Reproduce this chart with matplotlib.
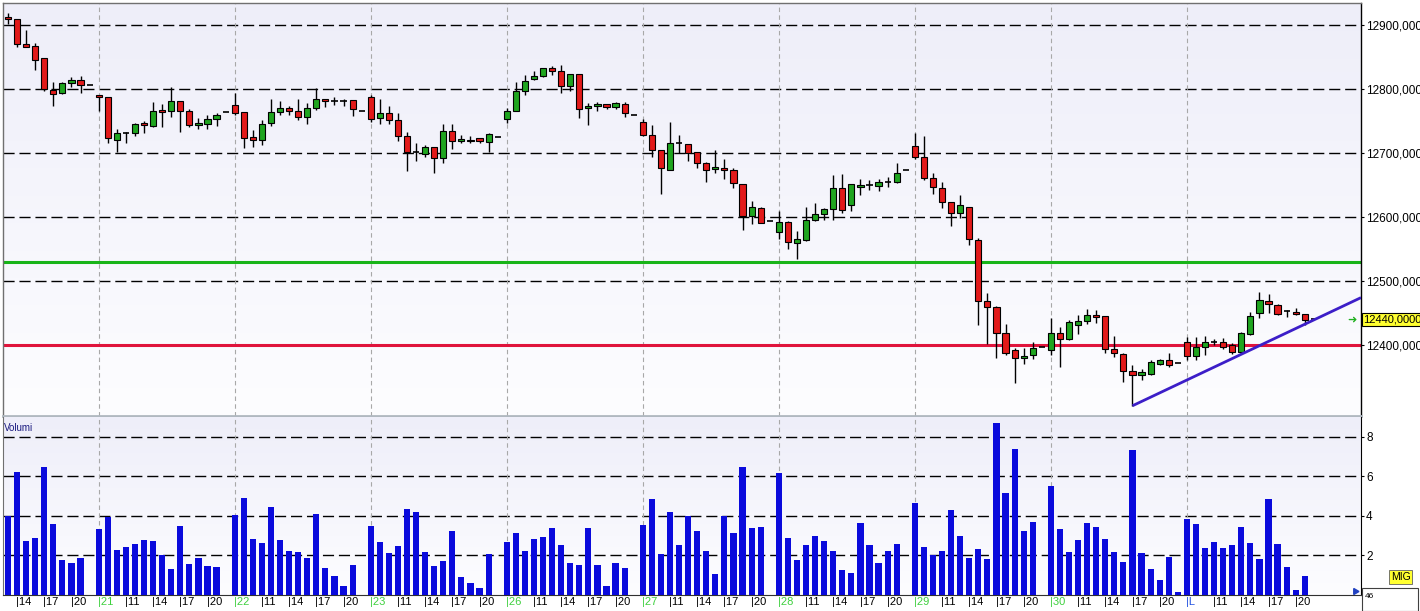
import numpy as np
import matplotlib
matplotlib.use("Agg")
import matplotlib.pyplot as plt
import matplotlib.transforms as mtransforms
from matplotlib.patches import Rectangle
from matplotlib.colors import LinearSegmentedColormap

plt.rcParams["font.family"] = ["Liberation Sans", "DejaVu Sans"]

# ---- hourly OHLC ----
opens = [12912, 12909, 12871, 12867, 12848, 12798, 12793, 12810, 12814, 12806,
         12790, 12787, 12721, 12731, 12731, 12747, 12742, 12767, 12765, 12781,
         12766, 12743, 12745, 12753, 12764, 12775, 12764, 12725, 12720, 12747,
         12764, 12771, 12765, 12757, 12770, 12785, 12782, 12782, 12783, 12766,
         12787, 12754, 12762, 12752, 12727, 12701, 12699, 12709, 12692, 12735,
         12718, 12719, 12723, 12717, 12725, 12753, 12766, 12797, 12815, 12820,
         12833, 12828, 12804, 12823, 12770, 12774, 12776, 12772, 12776, 12760,
         12749, 12728, 12704, 12674, 12715, 12714, 12701, 12684, 12675, 12676,
         12673, 12651, 12602, 12614, 12593, 12576, 12592, 12560, 12564, 12596,
         12604, 12612, 12646, 12619, 12647, 12650, 12648, 12655, 12654, 12673,
         12711, 12693, 12661, 12646, 12623, 12606, 12616, 12564, 12468, 12459,
         12419, 12392, 12379, 12385, 12397, 12392, 12418, 12410, 12431, 12437,
         12447, 12446, 12393, 12386, 12359, 12353, 12355, 12371, 12377, 12372,
         12405, 12383, 12397, 12405, 12405, 12400, 12389, 12417, 12450, 12468,
         12462, 12453, 12452, 12448, 12440]
highs = [12918, 12910, 12892, 12872, 12849, 12811, 12811, 12818, 12820, 12806,
         12790, 12788, 12737, 12733, 12747, 12750, 12780, 12776, 12803, 12781,
         12769, 12755, 12759, 12762, 12764, 12793, 12764, 12736, 12752, 12784,
         12781, 12773, 12784, 12778, 12801, 12785, 12787, 12784, 12783, 12766,
         12790, 12784, 12774, 12762, 12733, 12715, 12712, 12709, 12746, 12745,
         12728, 12727, 12723, 12731, 12725, 12771, 12811, 12822, 12828, 12833,
         12836, 12837, 12823, 12823, 12778, 12780, 12776, 12780, 12780, 12760,
         12753, 12744, 12704, 12749, 12728, 12714, 12702, 12686, 12704, 12690,
         12676, 12652, 12625, 12616, 12593, 12610, 12594, 12578, 12615, 12622,
         12614, 12666, 12667, 12651, 12659, 12658, 12659, 12663, 12684, 12673,
         12731, 12727, 12669, 12654, 12623, 12634, 12616, 12567, 12481, 12461,
         12433, 12395, 12395, 12405, 12397, 12442, 12428, 12439, 12447, 12456,
         12454, 12446, 12414, 12388, 12368, 12363, 12376, 12378, 12388, 12372,
         12413, 12413, 12414, 12410, 12411, 12403, 12421, 12452, 12482, 12480,
         12464, 12455, 12457, 12449, 12440]
lows = [12901, 12866, 12865, 12830, 12797, 12774, 12792, 12803, 12794, 12806,
        12766, 12715, 12701, 12715, 12726, 12731, 12740, 12740, 12757, 12733,
        12741, 12737, 12737, 12742, 12764, 12760, 12708, 12710, 12713, 12742,
        12759, 12759, 12752, 12746, 12767, 12772, 12775, 12774, 12758, 12766,
        12749, 12745, 12745, 12718, 12672, 12688, 12693, 12669, 12684, 12707,
        12715, 12715, 12715, 12701, 12725, 12747, 12765, 12791, 12814, 12819,
        12822, 12794, 12797, 12754, 12744, 12766, 12769, 12769, 12757, 12760,
        12726, 12694, 12636, 12674, 12700, 12688, 12677, 12655, 12668, 12659,
        12645, 12579, 12589, 12591, 12593, 12566, 12550, 12534, 12563, 12594,
        12596, 12596, 12607, 12610, 12634, 12642, 12641, 12647, 12653, 12673,
        12690, 12658, 12636, 12614, 12586, 12598, 12556, 12431, 12402, 12380,
        12384, 12341, 12371, 12378, 12397, 12384, 12366, 12408, 12417, 12433,
        12435, 12388, 12381, 12342, 12305, 12345, 12353, 12369, 12366, 12372,
        12377, 12377, 12385, 12400, 12393, 12386, 12386, 12416, 12442, 12450,
        12447, 12444, 12447, 12431, 12440]
closes = [12909, 12871, 12866, 12846, 12800, 12792, 12810, 12814, 12806, 12806,
          12787, 12723, 12731, 12731, 12745, 12743, 12765, 12764, 12781, 12765,
          12743, 12747, 12753, 12759, 12764, 12763, 12724, 12720, 12745, 12764,
          12771, 12765, 12757, 12770, 12784, 12782, 12782, 12782, 12768, 12766,
          12753, 12762, 12752, 12727, 12701, 12701, 12710, 12692, 12735, 12718,
          12722, 12721, 12718, 12729, 12725, 12766, 12797, 12812, 12820, 12833,
          12828, 12804, 12823, 12768, 12774, 12777, 12772, 12778, 12763, 12760,
          12728, 12704, 12676, 12715, 12715, 12700, 12684, 12673, 12678, 12673,
          12653, 12601, 12615, 12591, 12593, 12592, 12561, 12565, 12596, 12604,
          12612, 12646, 12611, 12651, 12650, 12650, 12654, 12655, 12668, 12673,
          12693, 12661, 12647, 12623, 12606, 12618, 12565, 12468, 12459, 12419,
          12388, 12379, 12383, 12396, 12397, 12418, 12409, 12436, 12437, 12447,
          12443, 12394, 12388, 12360, 12353, 12357, 12374, 12377, 12368, 12372,
          12383, 12397, 12405, 12405, 12397, 12389, 12418, 12445, 12470, 12464,
          12449, 12453, 12448, 12439, 12440]
volumes = [3.98, 6.19, 2.71, 2.88, 6.49, 3.58, 1.75, 1.61, 1.85, 0,
           3.32, 3.95, 2.25, 2.42, 2.56, 2.76, 2.71, 2.00, 1.29, 3.47,
           1.54, 1.85, 1.46, 1.39, 0, 4.03, 4.90, 2.81, 2.61, 4.44,
           2.76, 2.20, 2.15, 1.85, 4.08, 1.34, 0.93, 0.42, 1.49, 0,
           3.47, 2.66, 2.10, 2.46, 4.34, 4.19, 2.15, 1.44, 1.69, 3.22,
           0.88, 0.58, 0.32, 2.05, 0, 2.66, 3.12, 2.20, 2.81, 2.92,
           3.37, 2.51, 1.59, 1.49, 3.37, 1.49, 0.42, 1.59, 1.34, 0,
           3.53, 4.85, 2.05, 4.19, 2.51, 3.98, 3.22, 2.20, 1.03, 3.97,
           3.12, 6.47, 3.37, 3.42, 0, 6.17, 2.86, 1.75, 2.51, 2.97,
           2.71, 2.20, 1.24, 1.08, 3.63, 2.51, 1.59, 2.20, 2.56, 0,
           4.64, 2.41, 2.00, 2.20, 4.29, 2.97, 1.86, 2.31, 1.80, 8.71,
           5.15, 7.39, 3.22, 3.68, 0, 5.51, 3.32, 2.15, 2.76, 3.63,
           3.42, 2.81, 2.15, 1.64, 7.34, 2.10, 1.29, 0.73, 1.90, 0.12,
           3.83, 3.58, 2.36, 2.66, 2.36, 2.51, 3.42, 2.61, 1.80, 4.85,
           2.56, 1.39, 0.22, 0.93, 0]

day_labels = ["21", "22", "23", "26", "27", "28", "29", "30", "L"]
first_hour = 13
session_hours = list(range(8, 23))
hour_ticks = [11, 14, 17, 20]
price_ticks = [12400, 12500, 12600, 12700, 12800, 12900]
volume_ticks = [2, 4, 6, 8]
resistance = 12530
support = 12400
trend_x = [124, 149.2]
trend_y = [12305, 12474]
last_price = 12440

hours = list(range(first_hour, 23)) + session_hours * len(day_labels)
x = np.arange(len(opens))
o = np.array(opens, float)
h = np.array(highs, float)
l = np.array(lows, float)
c = np.array(closes, float)

W, H = 1420, 611
fig = plt.figure(figsize=(W / 100, H / 100), dpi=100)
fig.patch.set_facecolor("white")


def px_axes(x0, y0, x1, y1):
    return fig.add_axes([x0 / W, 1 - y1 / H, (x1 - x0) / W, (y1 - y0) / H])


ax = px_axes(3, 3, 1361, 416)
axv = px_axes(3, 417, 1361, 594.5)

xlim = (-0.55, 149.2)
grad = np.linspace(0, 1, 256).reshape(-1, 1)
bg = LinearSegmentedColormap.from_list("bg", ["#eeeef9", "#fdfdff"])
for a in (ax, axv):
    a.imshow(grad, cmap=bg, aspect="auto", extent=[0, 1, 0, 1],
             transform=a.transAxes, zorder=0)
    a.set_xlim(*xlim)
    a.set_xticks([])

day_starts = [i for i, hr in enumerate(hours) if hr == 8]

# ---- price panel ----
ax.set_ylim(12289, 12934.4)
for p in price_ticks:
    ax.axhline(p, color="black", lw=1.0, ls=(0, (8, 3.5)), zorder=1)
for d in day_starts:
    ax.axvline(d, color="#a8a8a8", lw=0.8, ls=(0, (4, 3)), zorder=1)

ax.axhline(resistance, color="#18b418", lw=2.2, zorder=2)
ax.axhline(support, color="#e0143c", lw=2.2, zorder=2)

ax.vlines(x, l, h, color="black", lw=1.0, zorder=3)
up = c > o
down = c < o
flat = c == o
bw = 0.68
ax.bar(x[up], c[up] - o[up], bottom=o[up], width=bw, color="#1fa51f",
       edgecolor="black", linewidth=0.8, zorder=4)
ax.bar(x[down], o[down] - c[down], bottom=c[down], width=bw, color="#e21a1a",
       edgecolor="black", linewidth=0.8, zorder=4)
ax.hlines(c[flat], x[flat] - bw / 2, x[flat] + bw / 2, color="black", lw=1.2, zorder=4)

ax.plot(trend_x, trend_y, color="#3c1ec8", lw=2.0, zorder=5, solid_capstyle="butt")

ax.yaxis.tick_right()
ax.set_yticks(price_ticks)
ax.set_yticklabels([f"{p},0000" for p in price_ticks])
ax.tick_params(axis="y", length=2.5, pad=1.2, labelsize=8.5, colors="black")

for side, col in (("top", "#707070"), ("left", "#707070"), ("right", "black")):
    ax.spines[side].set_color(col)
    ax.spines[side].set_linewidth(1.0)
ax.spines["bottom"].set_color("#b0b8c0")
ax.spines["bottom"].set_linewidth(2.0)

ybl = mtransforms.blended_transform_factory(ax.transAxes, ax.transData)
ax.text(1.0015, last_price, f"{last_price},0000", transform=ybl, ha="left",
        va="center", fontsize=8, zorder=10, clip_on=False,
        bbox=dict(boxstyle="square,pad=0.12", fc="#ffff30", ec="black", lw=0.8))
ax.text(0.9935, last_price, "\u279c", transform=ybl, ha="center", va="center",
        fontsize=8, color="#20b020", family="DejaVu Sans", zorder=10)

# ---- volume panel ----
axv.set_ylim(0, 9.0)
for v in volume_ticks:
    axv.axhline(v, color="black", lw=1.0, ls=(0, (8, 3.5)), zorder=1)
for d in day_starts:
    axv.axvline(d, color="#a8a8a8", lw=0.8, ls=(0, (4, 3)), zorder=1)
axv.bar(x, volumes, width=bw, color="#0a0adc", zorder=3)

axv.yaxis.tick_right()
axv.set_yticks(volume_ticks)
axv.set_yticklabels([str(v) for v in volume_ticks])
axv.tick_params(axis="y", length=2.5, pad=1.2, labelsize=8.5)
axv.spines["top"].set_visible(False)
axv.spines["left"].set_color("#707070")
axv.spines["right"].set_color("black")
axv.spines["bottom"].set_color("#303030")

axv.text(0.0005, 0.938, "Volumi", transform=axv.transAxes, fontsize=7,
         color="#1a1a80", va="center", ha="left")
axv.plot([0.9955], [0.02], transform=axv.transAxes, marker=(3, 0, 30), ms=5,
         color="#2040c0", clip_on=False, zorder=10)

# ---- bottom time labels ----
xbl = mtransforms.blended_transform_factory(axv.transData, fig.transFigure)
yl = 1 - 602 / H
d = 0
for i, hr in enumerate(hours):
    if hr == 8:
        lab = day_labels[d]
        col = "#2050e0" if lab == "L" else "#40d040"
        axv.text(i - 0.1, yl, "|" + lab, transform=xbl, fontsize=8, color=col,
                 ha="left", va="center", clip_on=False)
        d += 1
    elif hr in hour_ticks:
        axv.text(i - 0.1, yl, f"|{hr}", transform=xbl, fontsize=8, color="black",
                 ha="left", va="center", clip_on=False)

# ---- right side boxes ----
fig.text(1391 / W, 1 - 577 / H, "MIG", fontsize=7.5, ha="left", va="center",
         bbox=dict(boxstyle="square,pad=0.15", fc="#ffff30", ec="#606060", lw=0.6))
fig.patches.append(Rectangle((1362 / W, 0), 56 / W, 23 / H, transform=fig.transFigure,
                             fc="white", ec="#404040", lw=0.8))
fig.text(1365 / W, 1 - 596 / H, "46", fontsize=6, ha="left", va="center")

fig.savefig("out.png", dpi=100)
